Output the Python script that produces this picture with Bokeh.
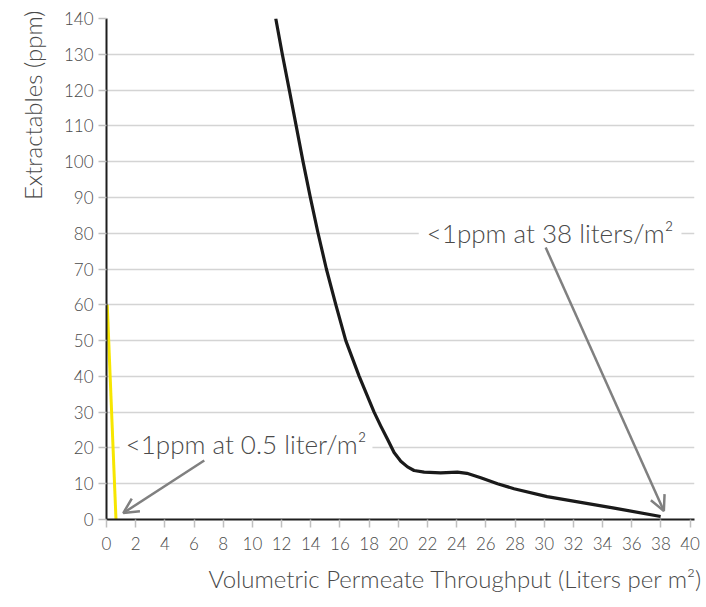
import numpy as np
from bokeh.plotting import figure
from bokeh.models import Range1d, Label, Arrow, OpenHead, FixedTicker, Title
from bokeh.embed import file_html
from bokeh.resources import INLINE

# Data
curve_x = [11.6, 12.05, 12.53, 13.0, 13.47, 13.97, 14.5, 15.07, 15.72, 16.4, 17.32, 18.34,
           18.8, 19.26, 19.71, 20.17, 20.63, 21.08, 21.77, 22.9, 24.05, 24.7, 25.65, 26.8,
           27.93, 30.2, 32.5, 34.8, 37.98]
curve_y = [140, 130, 120, 110, 100, 90, 80, 70, 60, 50, 40, 30,
           26.1, 22.4, 18.7, 16.3, 14.7, 13.7, 13.25, 13.05, 13.25, 12.9, 11.65, 10.0,
           8.6, 6.4, 4.8, 3.2, 0.84]
yellow_x = [0.05, 0.65]
yellow_y = [60, 0]
x_ticks = list(range(0, 41, 2))
y_ticks = list(range(0, 141, 10))
label_small = "<1ppm at 0.5 liter/m²"
label_large = "<1ppm at 38 liters/m²"
x_title = "Volumetric Permeate Throughput (Liters per m²)"
y_title = "Extractables (ppm)"

FONT = "Lato Light"
TXT = "#4a4a4a"

p = figure(width=706, height=607, output_backend="svg", toolbar_location=None,
           x_range=Range1d(0, 40.3), y_range=Range1d(0, 140),
           min_border_left=106, min_border_right=12, min_border_top=18, min_border_bottom=88)
p.outline_line_color = None
p.xgrid.grid_line_color = None
p.ygrid.grid_line_color = "#d4d4d4"
p.ygrid.grid_line_width = 1.5

for ax in (p.xaxis, p.yaxis):
    ax.axis_line_color = "#1e1e1e"
    ax.axis_line_width = 2
    ax.major_tick_line_color = "#c0c0c0"
    ax.major_tick_line_width = 1.5
    ax.major_tick_in = 0
    ax.major_tick_out = 8
    ax.minor_tick_line_color = None
    ax.major_label_text_font = FONT
    ax.major_label_text_font_size = "17px"
    ax.major_label_text_color = TXT
p.xaxis.ticker = FixedTicker(ticks=x_ticks)
p.yaxis.ticker = FixedTicker(ticks=y_ticks)
p.xaxis.major_label_standoff = 9
p.yaxis.major_label_standoff = 5

p.line(yellow_x, yellow_y, line_color="#f7e600", line_width=3)
p.line(curve_x, curve_y, line_color="#1a1a1a", line_width=3.2, line_join="round")

p.add_layout(Label(x=0.9, y=21.0, text=label_small, text_font=FONT, text_font_size="26px",
                   text_color=TXT, text_baseline="middle", background_fill_color="white",
                   padding=6))
p.add_layout(Label(x=21.4, y=80.0, text=label_large, text_font=FONT, text_font_size="26px",
                   text_color=TXT, text_baseline="middle", background_fill_color="white",
                   padding=8))

p.add_layout(Arrow(x_start=6.7, y_start=16.5, x_end=1.15, y_end=1.8,
                   line_color="#808080", line_width=2.5,
                   end=OpenHead(line_color="#808080", line_width=2.5, size=15)))
p.add_layout(Arrow(x_start=30.1, y_start=76.0, x_end=38.2, y_end=2.4,
                   line_color="#808080", line_width=2.5,
                   end=OpenHead(line_color="#808080", line_width=2.5, size=15)))

p.add_layout(Title(text=x_title, align="right", text_font=FONT, text_font_size="24px",
                   text_font_style="normal", text_color=TXT, standoff=18, offset=-8), "below")
p.add_layout(Title(text=y_title, align="right", text_font=FONT, text_font_size="24px",
                   text_font_style="normal", text_color=TXT, standoff=28, offset=-8), "left")

open("out.html", "w").write(file_html(p, INLINE))
